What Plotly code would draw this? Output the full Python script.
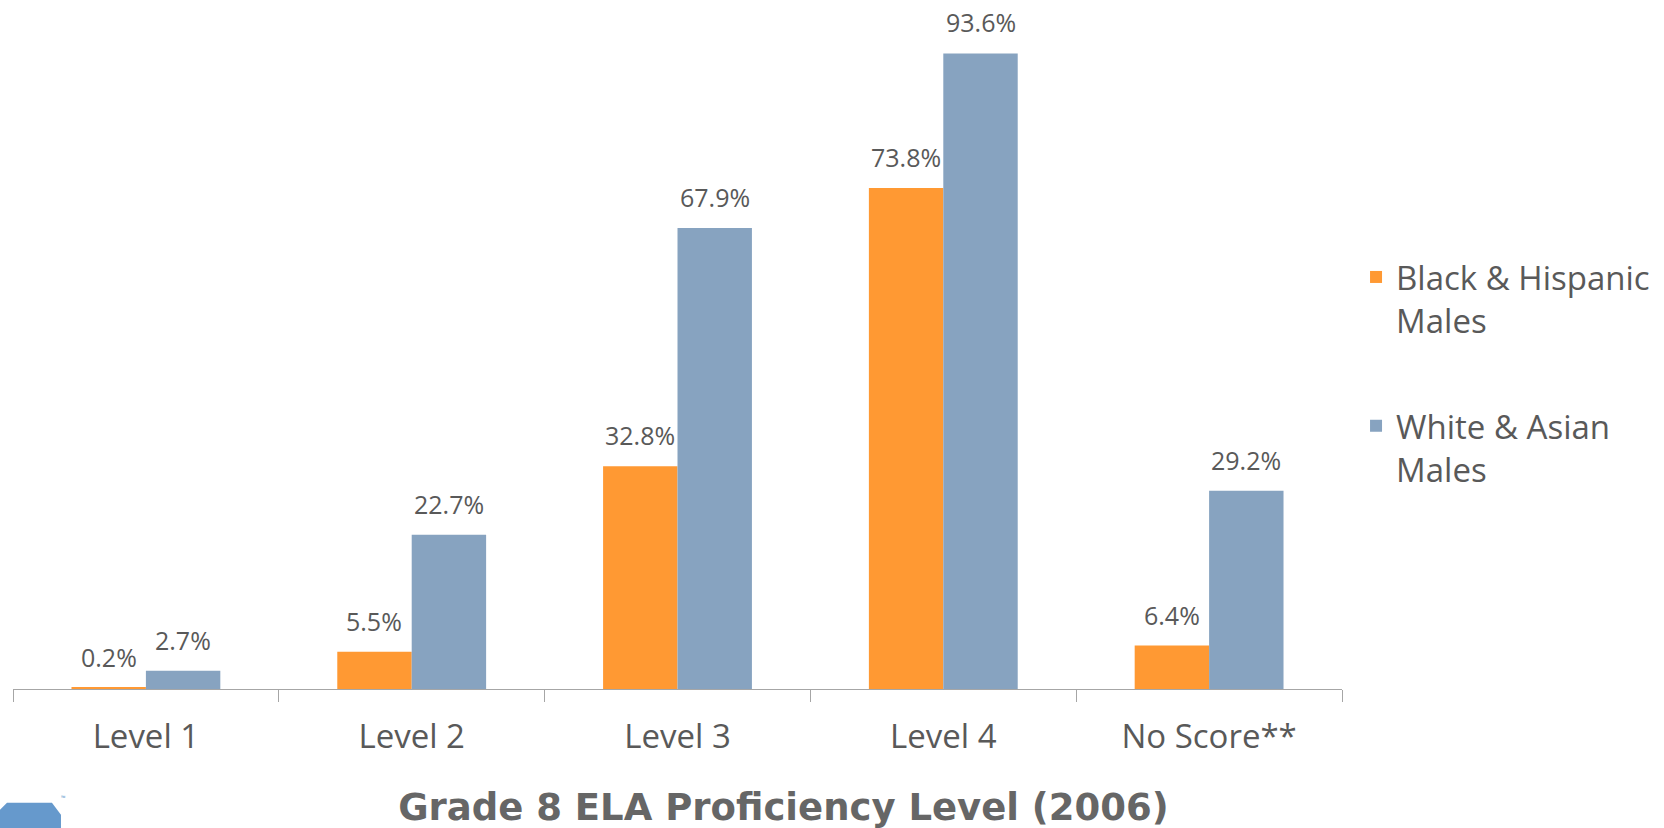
"""Grade 8 ELA proficiency by group – grouped bar chart."""

import plotly.graph_objects as go

CATEGORIES = ["Level 1", "Level 2", "Level 3", "Level 4", "No Score**"]
BLACK_HISPANIC = [0.2, 5.5, 32.8, 73.8, 6.4]
WHITE_ASIAN = [2.7, 22.7, 67.9, 93.6, 29.2]
SERIES_NAMES = ["Black & Hispanic<br>Males", "White & Asian<br>Males"]
TITLE = "Grade 8 ELA Proficiency Level (2006)"

ORANGE = "#FF9933"
BLUE = "#87A3C0"
TEXT = "#595959"
AXIS = "#A6A6A6"
FONT = "Open Sans, Noto Sans, sans-serif"
BARGAP = 0.44

fig = go.Figure()
for name, values, color in zip(SERIES_NAMES, (BLACK_HISPANIC, WHITE_ASIAN), (ORANGE, BLUE)):
    fig.add_trace(
        go.Bar(
            x=CATEGORIES,
            y=values,
            name=name,
            legendgroup=name,
            marker={"color": color, "line": {"width": 0}},
            hoverinfo="skip",
        )
    )

# data labels above each bar, placed on the category scale
half = (1 - BARGAP) / 4
for offset, values in ((-half, BLACK_HISPANIC), (half, WHITE_ASIAN)):
    for index, value in enumerate(values):
        fig.add_annotation(
            x=index + offset,
            y=value,
            xref="x",
            yref="y",
            text=f"{value:.1f}%",
            showarrow=False,
            yanchor="bottom",
            yshift=12,
            font={"size": 25, "color": TEXT, "family": FONT},
        )

# partially visible logo in the bottom-left corner
fig.add_shape(
    type="path",
    xref="paper",
    yref="paper",
    path="M -0.0098 -0.1779 L -0.0045 -0.1677 L 0.0293 -0.1677 L 0.0361 -0.1853 "
    "L 0.0361 -0.2074 L -0.0098 -0.2074 Z",
    fillcolor="#6699CC",
    line={"width": 0},
    layer="above",
)
fig.add_annotation(
    x=0.0346,
    y=-0.1692,
    xref="paper",
    yref="paper",
    text="™",
    showarrow=False,
    font={"size": 6, "color": "#6699CC", "family": FONT},
)

fig.update_layout(
    width=1664,
    height=828,
    barmode="group",
    bargap=BARGAP,
    bargroupgap=0,
    paper_bgcolor="white",
    plot_bgcolor="white",
    margin={"l": 13, "r": 321, "t": 10, "b": 139},
    font={"family": FONT, "color": TEXT, "size": 33},
    showlegend=True,
    legend={
        "x": 1.0098,
        "xanchor": "left",
        "y": 0.648,
        "yanchor": "top",
        "valign": "top",
        "tracegroupgap": 60,
        "font": {"size": 33, "color": TEXT, "family": FONT},
    },
    title={
        "text": f"<b>{TITLE}</b>",
        "xref": "paper",
        "x": 0.5797,
        "xanchor": "center",
        "yref": "container",
        "y": 0.025,
        "yanchor": "middle",
        "font": {"family": "DejaVu Sans, sans-serif", "size": 37, "color": "#666666"},
    },
)
fig.update_xaxes(
    type="category",
    showline=True,
    linecolor=AXIS,
    linewidth=1,
    ticks="outside",
    tickson="boundaries",
    ticklen=12,
    tickcolor=AXIS,
    ticklabelstandoff=18,
    tickfont={"size": 33, "color": TEXT, "family": FONT},
    showgrid=False,
    zeroline=False,
)
fig.update_yaxes(range=[0, 100], visible=False, showgrid=False, zeroline=False)

# drop the page's default body margin so the figure sits at the window's corner
fig.write_html(
    "out.html",
    config={"displayModeBar": False},
    post_script="document.body.style.margin = '0';",
)
